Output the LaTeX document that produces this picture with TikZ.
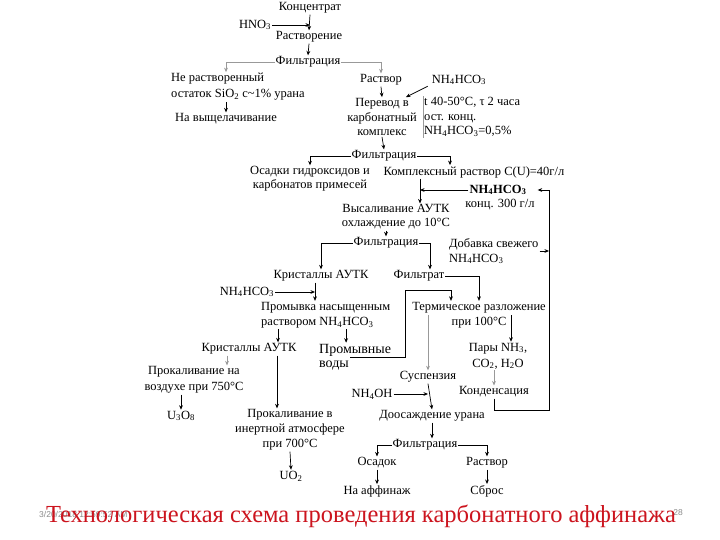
\documentclass[tikz,border=0pt]{standalone}
\usepackage{fontspec}
\setmainfont{Liberation Serif}
\newfontfamily\datefont{Liberation Sans}
\usetikzlibrary{arrows.meta,positioning,calc}
\definecolor{titlered}{RGB}{204,20,30}
\newcommand{\ix}[1]{\textsubscript{#1}}
\newcommand{\nhc}{NH\ix{4}HCO\ix{3}}

\begin{document}
\begin{tikzpicture}[x=1pt,y=-1pt,
    >={Stealth[length=4.5pt,width=3.8pt]},
    every node/.style={inner sep=1pt},
    txt/.style={font=\fontsize{12.5}{15}\selectfont, align=center},
    ln/.style={line width=0.7pt},
    faint/.style={line width=0.6pt, black!40}]
  % Le fond
  \fill[white] (0,0) rectangle (720,540);
  \useasboundingbox (0,0) rectangle (720,540);
  % Растворение
  \node[txt] (konc) at (310,8) {Концентрат};
  \node[txt] (hno) at (255,25) {HNO\ix{3}};
  \node[txt] (rastvorenie) at (309,37) {Растворение};
  \node[txt] (filtr1) at (308,62) {Фильтрация};
  \node[txt, align=left, anchor=west, font=\fontsize{12.5}{16}\selectfont] (nerastv) at (170,87) {Не растворенный\\остаток SiO\ix{2} с\textasciitilde1\% урана};
  \node[txt] (vysch) at (226,119) {На выщелачивание};
  \node[txt] (rastvor1) at (381,80) {Раствор};
  \node[txt] (nh1) at (459,80) {\nhc};
  \node[txt, font=\fontsize{12.5}{14.5}\selectfont] (perevod) at (382,117) {Перевод в\\карбонатный\\комплекс};
  \node[txt, align=left, anchor=west, font=\fontsize{12.5}{14.5}\selectfont] (usl) at (423,117) {t 40-50°C, τ 2 часа\\ост. конц.\\\nhc=0,5\%};
  % Фильтрация 2
  \node[txt] (filtr2) at (384,156) {Фильтрация};
  \node[txt, font=\fontsize{12.5}{14}\selectfont] (osadki) at (310,179) {Осадки гидроксидов и\\карбонатов примесей};
  \node[txt] (kompl) at (474,172) {Комплексный раствор C(U)=40г/л};
  \node[txt, font=\fontsize{12.5}{15}\selectfont\bfseries] (nh2) at (498,190) {\nhc};
  \node[txt] (konc300) at (500,205) {конц. 300 г/л};
  \node[txt, font=\fontsize{12.5}{14}\selectfont] (vysal) at (396,217) {Высаливание АУТК\\охлаждение до 10°C};
  % Фильтрация 3
  \node[txt] (filtr3) at (386,243) {Фильтрация};
  \node[txt, align=left, anchor=west] (dobavka) at (448,251) {Добавка свежего\\\nhc};
  \node[txt] (krist1) at (321,276) {Кристаллы АУТК};
  \node[txt] (filtrat) at (419,276) {Фильтрат};
  \node[txt] (nh3) at (247,292) {\nhc};
  \node[txt, align=left, anchor=west] (promyvka) at (260,315) {Промывка насыщенным\\раствором \nhc};
  \node[txt] (termich) at (479,315) {Термическое разложение\\при 100°C};
  \node[txt] (krist2) at (249,349) {Кристаллы АУТК};
  \node[txt, font=\fontsize{14}{15}\selectfont, anchor=west] (vody1) at (318,350) {Промывные};
  \node[txt, font=\fontsize{14}{15}\selectfont, anchor=west] (vody2) at (318,366) {воды};
  \node[txt, font=\fontsize{12.5}{16}\selectfont] (pary) at (498,356) {Пары NH\ix{3},\\CO\ix{2}, H\ix{2}O};
  \node[txt, font=\fontsize{12.5}{16}\selectfont] (prokal1) at (194,380) {Прокаливание на\\воздухе при 750°C};
  \node[txt] (suspenz) at (428,377) {Суспензия};
  \node[txt] (kondens) at (494,392) {Конденсация};
  \node[txt] (nh4oh) at (372,394) {NH\ix{4}OH};
  \node[txt] (u3o8) at (181,416) {U\ix{3}O\ix{8}};
  \node[txt] (prokal2) at (290,430) {Прокаливание в\\инертной атмосфере\\при 700°C};
  \node[txt] (doosazh) at (432,416) {Доосаждение урана};
  % Фильтрация 4
  \node[txt] (filtr4) at (425,445) {Фильтрация};
  \node[txt] (osadok) at (377,463) {Осадок};
  \node[txt] (rastvor2) at (487,463) {Раствор};
  \node[txt] (uo2) at (291,476) {UO\ix{2}};
  \node[txt] (affinazh) at (377,491) {На аффинаж};
  \node[txt] (sbros) at (487,491) {Сброс};
  % Подпись
  \node[font=\datefont\fontsize{8.5}{10}\selectfont, text=black!45, anchor=west] (date) at (38,514) {3/20/2018 12:59:52 AM};
  \node[font=\datefont\fontsize{8.5}{10}\selectfont, text=black!45, anchor=east] (page) at (684,513) {28};
  \node[font=\fontsize{24.5}{28}\selectfont, text=titlered] (title) at (361,516) {Технологическая схема проведения карбонатного аффинажа};

  % Стрелки сверху
  \draw[ln,->] (konc.south) -- (rastvorenie.north);
  \draw[ln,->] (hno.east) -- (hno.east -| konc.south);
  \draw[ln,->] (rastvorenie.south) -- (filtr1.north);
  \draw[faint,->] (filtr1.west) -| (nerastv.north -| vysch.north);
  \draw[faint,->] (filtr1.east) -| (rastvor1.north);
  \draw[ln,->] (nerastv.south -| vysch.north) -- (vysch.north);
  \draw[ln,->] (rastvor1.south) -- (perevod.north);
  \draw[ln,->] ([xshift=-3pt]nh1.south west) -- ([xshift=-12pt]perevod.north east);
  \draw[faint] (usl.north west) -- (usl.south west);
  \draw[ln,->] (perevod.south) -- (filtr2.north);
  \draw[ln,->] (filtr2.west) -| (osadki.north);
  \draw[ln,->] (filtr2.east) -| ([xshift=-24pt]kompl.north);
  % Высаливание
  \coordinate (kv) at ([xshift=-54pt]kompl.south);
  \draw[ln,->] (kv) -- (kv |- vysal.north);
  \draw[ln,->] (nh2.west) -- (nh2.west -| kv);
  \draw[ln,->] (vysal.south -| filtr3.north) -- (filtr3.north);
  \draw[ln,->] (filtr3.west) -| (krist1.north);
  \draw[ln,->] (filtr3.east) -| ([xshift=11pt]filtrat.north);
  \draw[ln,->] (filtrat.east) -| (termich.north);
  % Возврат NH4HCO3
  \coordinate (loop) at (549,0);
  \coordinate (nhend) at ([xshift=10pt]nh2.east);
  \draw[ln,->] (kondens.south) |- ([yshift=-12pt]kondens.south -| loop) |- (nhend);
  \draw[ln,->] (dobavka.east) -- (dobavka.east -| loop);
  % Промывка
  \coordinate (kr) at ([xshift=-6pt]krist1.south);
  \draw[ln,->] (kr) -- (kr |- promyvka.north);
  \draw[ln,->] (nh3.east) -- (nh3.east -| kr);
  \coordinate (k2) at ([xshift=29pt]krist2.north);
  \draw[ln,->] (k2 |- promyvka.south) -- (k2);
  \coordinate (pv) at ([xshift=-9pt]vody1.north);
  \draw[ln,->] (pv |- promyvka.south) -- (pv);
  \coordinate (wash) at (405,290);
  \coordinate (tv) at ([xshift=-28pt]termich.north);
  \draw[ln,->] (vody2.east |- vody1.south) -| (wash) -| (tv);
  % Термическое разложение
  \draw[faint,->] (suspenz.north |- termich.east) -- (suspenz.north);
  \coordinate (tp) at ([xshift=13pt]pary.north);
  \draw[ln,->] (tp |- termich.east) -- (tp);
  \draw[faint,->] (kondens.north |- pary.south) -- (kondens.north);
  \draw[ln,->] (suspenz.south) -- (doosazh.north);
  \draw[ln,->] (nh4oh.east) -- (nh4oh.east -| suspenz.south);
  % Прокаливание
  \coordinate (k2a) at ([xshift=-22pt]krist2.south);
  \coordinate (k2b) at ([xshift=28pt]krist2.south);
  \draw[faint,->] (k2a) -- (k2a |- prokal1.north);
  \draw[ln,->] (k2b) -- (k2b |- prokal2.north);
  \draw[ln,->] (prokal1.south -| u3o8.north) -- (u3o8.north);
  \draw[ln,->] (prokal2.south) -- (uo2.north);
  % Доосаждение
  \draw[ln,->] (doosazh.south) -- (doosazh.south |- filtr4.north);
  \draw[ln,->] (filtr4.west) -| (osadok.north);
  \draw[ln,->] (filtr4.east) -| (rastvor2.north);
  \draw[ln,->] (osadok.south) -- (affinazh.north);
  \draw[ln,->] (rastvor2.south) -- (sbros.north);
\end{tikzpicture}
\end{document}
